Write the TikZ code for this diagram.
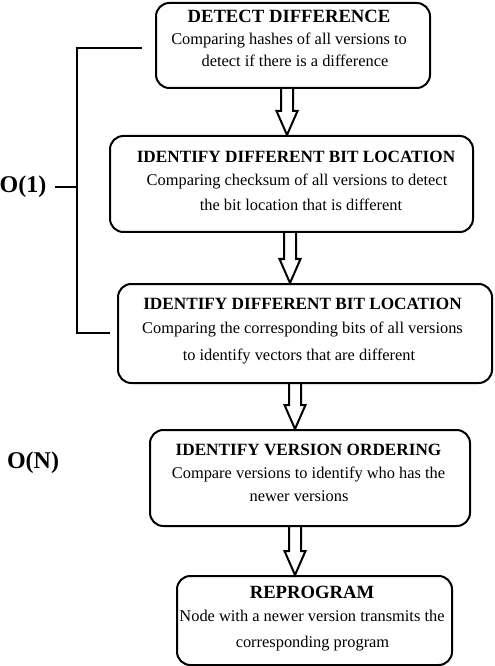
\documentclass[tikz,border=0pt]{standalone}
\usepackage{fontspec}
\setmainfont{Liberation Serif}
\usetikzlibrary{calc}
\newcommand\blockarrow[2]{%
  \draw[barrow] ($(#1)+(-6,0)$) -- ($(#2)+(-6,-24)$) -- ($(#2)+(-10.5,-24)$) -- (#2)
    -- ($(#2)+(10.5,-24)$) -- ($(#2)+(6,-24)$) -- ($(#1)+(6,0)$);}
\begin{document}
\begin{tikzpicture}[x=0.75pt,y=-0.75pt,
  box/.style={draw, line width=1.5pt, rounded corners=10pt, anchor=north west, inner sep=0pt},
  ttl/.style={font=\fontsize{12.9}{14}\selectfont\bfseries, anchor=base, inner sep=0pt},
  bigttl/.style={ttl, font=\fontsize{14}{16}\selectfont\bfseries},
  txt/.style={font=\fontsize{12.3}{14}\selectfont, anchor=base, inner sep=0pt},
  barrow/.style={draw, line width=1.5pt, line join=miter},
  brace/.style={draw, line width=1.9pt},
  cplx/.style={font=\fontsize{18}{20}\selectfont\bfseries, inner sep=0pt}]
\useasboundingbox (0,0) rectangle (494,666);

% boxes
\node[box, minimum width={274*0.75pt}, minimum height={85*0.75pt}] (b1) at (155,2) {};
\node[box, minimum width={363*0.75pt}, minimum height={96*0.75pt}] (b2) at (109,135) {};
\node[box, minimum width={374*0.75pt}, minimum height={99*0.75pt}] (b3) at (117,283) {};
\node[box, minimum width={320*0.75pt}, minimum height={96*0.75pt}] (b4) at (149,429) {};
\node[box, minimum width={275*0.75pt}, minimum height={89*0.75pt}] (b5) at (176,575) {};

% texts
\node[bigttl] (t1) at (289,23) {DETECT DIFFERENCE};
\node[txt] (t1a) at (289,45) {Comparing hashes of all versions to};
\node[txt] (t1b) at (295,67) {detect if there is a difference};

\node[ttl] (t2) at (296,163) {IDENTIFY DIFFERENT BIT LOCATION};
\node[txt] (t2a) at (297,186) {Comparing checksum of all versions to detect};
\node[txt] (t2b) at (301,211) {the bit location that is different};

\node[ttl] (t3) at (302.5,309) {IDENTIFY DIFFERENT BIT LOCATION};
\node[txt] (t3a) at (302.5,333) {Comparing the corresponding bits of all versions};
\node[txt] (t3b) at (299,360) {to identify vectors that are different};

\node[ttl] (t4) at (308.5,455) {IDENTIFY VERSION ORDERING};
\node[txt] (t4a) at (308.5,478) {Compare versions to identify who has the};
\node[txt] (t4b) at (299,501) {newer versions};

\node[bigttl] (t5) at (312,598) {REPROGRAM};
\node[txt] (t5a) at (312,621) {Node with a newer version transmits the};
\node[txt] (t5b) at (312.5,647) {corresponding program};

% block arrows
\coordinate (a1t) at (b1.south -| 287,0);
\coordinate (a1b) at (b2.north -| 287,0);
\coordinate (a2t) at (b2.south -| 290,0);
\coordinate (a2b) at (b3.north -| 290,0);
\coordinate (a3t) at (b3.south -| 295,0);
\coordinate (a3b) at (b4.north -| 295,0);
\coordinate (a4t) at (b4.south -| 295,0);
\coordinate (a4b) at (b5.north -| 295,0);
\blockarrow{a1t}{a1b}
\blockarrow{a2t}{a2b}
\blockarrow{a3t}{a3b}
\blockarrow{a4t}{a4b}

% complexity labels and bracket
\node[cplx] (o1) at (23,187) {O(1)};
\node[cplx] (on) at (33,463) {O(N)};
\coordinate (bt) at (142,48);
\coordinate (bb) at (110,333);
\coordinate (bm) at (77,187);
\draw[brace] (bt) -- (bt -| bm) -- (bb -| bm) -- (bb);
\draw[brace, shorten >=6pt] (bm) -- (o1.east);
\end{tikzpicture}
\end{document}
